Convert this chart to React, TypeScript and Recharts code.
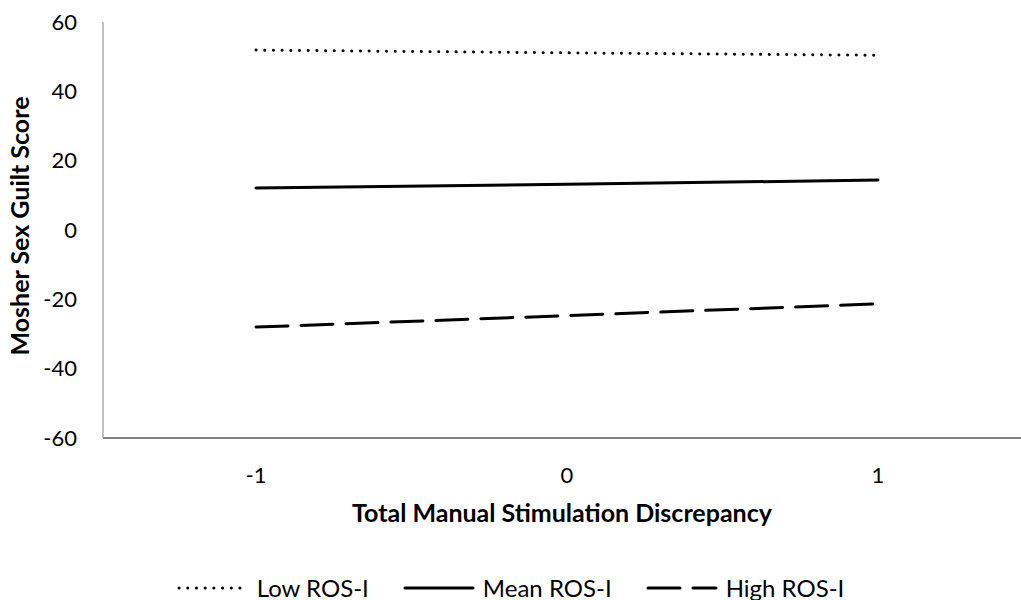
import React from 'react';
import { LineChart, Line, XAxis, YAxis, Legend } from 'recharts';

const categories = ['-1', '0', '1'];
const lowRos = [51.9, 51.1, 50.4];
const meanRos = [12.1, 13.2, 14.4];
const highRos = [-28, -24.7, -21.3];
const yTicks = [-60, -40, -20, 0, 20, 40, 60];

const data = categories.map((c, i) => ({
  x: c,
  low: lowRos[i],
  mean: meanRos[i],
  high: highRos[i]
}));

const FONT = 'Lato, "Open Sans", sans-serif';

const series = [
  { key: 'low', name: 'Low ROS-I', dash: '0.1 8.6' },
  { key: 'mean', name: 'Mean ROS-I', dash: undefined },
  { key: 'high', name: 'High ROS-I', dash: '32 13' }
];

// legend drawn like the Excel one: line sample then label
const CustomLegend = () => (
  <div style={{ display: 'flex', justifyContent: 'center', fontFamily: FONT, fontSize: 24, color: '#000' }}>
    {series.map((s, i) => (
      <div key={s.key} style={{ display: 'flex', alignItems: 'center', marginRight: i < 2 ? 34 : 0 }}>
        <svg width={72} height={10} style={{ marginRight: 8 }}>
          <line
            x1={2}
            y1={5}
            x2={70}
            y2={5}
            stroke="#000"
            strokeWidth={3}
            strokeLinecap="round"
            strokeDasharray={s.dash}
          />
        </svg>
        <span>{s.name}</span>
      </div>
    ))}
  </div>
);

const YTitle = (props: any) => {
  const vb = props.viewBox || { x: 0, y: 22, width: 103, height: 416 };
  const cx = vb.x + 19;
  const cy = vb.y + vb.height / 2 - 4;
  return (
    <text
      x={cx}
      y={cy}
      transform={`rotate(-90, ${cx}, ${cy})`}
      textAnchor="middle"
      dominantBaseline="central"
      fill="#000"
      fontSize={25}
      fontWeight="bold"
      fontFamily={FONT}
    >
      Mosher Sex Guilt Score
    </text>
  );
};

export default function App() {
  return (
    <div style={{ position: 'absolute', left: 0, top: 0, background: '#fff' }}>
      <LineChart
        width={1021}
        height={600}
        data={data}
        margin={{ top: 22, right: 0, bottom: 74, left: 0 }}
      >
        <XAxis
          dataKey="x"
          height={88}
          padding={{ left: 153, right: 143 }}
          axisLine={{ stroke: '#000', strokeWidth: 1.2 }}
          tickLine={false}
          tickSize={0}
          tickMargin={29}
          tick={{ fill: '#000', fontSize: 22, fontFamily: FONT }}
          label={{
            value: 'Total Manual Stimulation Discrepancy',
            position: 'insideBottom',
            offset: 4,
            style: { fill: '#000', fontSize: 25, fontWeight: 'bold', fontFamily: FONT }
          }}
        />
        <YAxis
          width={103}
          domain={[-60, 60]}
          ticks={yTicks}
          interval={0}
          axisLine={{ stroke: '#9a9a9a', strokeWidth: 1.2 }}
          tickLine={false}
          tickSize={0}
          tickMargin={26}
          tick={{ fill: '#000', fontSize: 22, fontFamily: FONT }}
          label={<YTitle />}
        />
        <Legend
          verticalAlign="middle"
          align="center"
          content={<CustomLegend />}
          wrapperStyle={{ top: 573, left: 0, width: 1021 }}
        />
        {series.map((s) => (
          <Line
            key={s.key}
            dataKey={s.key}
            name={s.name}
            type="linear"
            stroke="#000"
            strokeWidth={3}
            strokeLinecap="round"
            strokeDasharray={s.dash}
            dot={false}
            activeDot={false}
            isAnimationActive={false}
          />
        ))}
      </LineChart>
    </div>
  );
}
